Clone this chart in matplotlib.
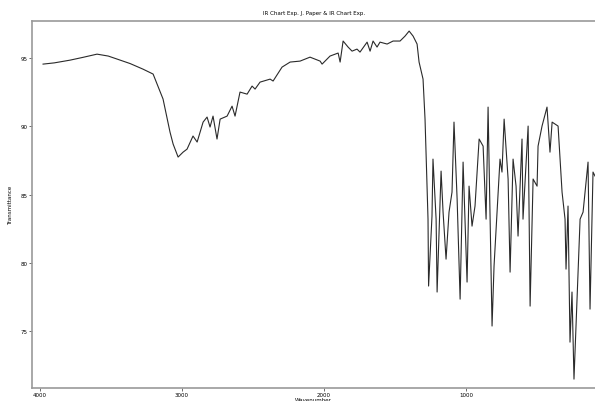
import matplotlib
matplotlib.use("Agg")
from matplotlib import pyplot as plt

# IR spectrum (wavenumber cm-1, transmittance)
wavenumber = [3979, 3900, 3789, 3700, 3599, 3520, 3458, 3366, 3275, 3204,
              3134, 3085, 3063, 3028,
              2993, 2965, 2923, 2894, 2852, 2824, 2803, 2782, 2754, 2732,
              2683, 2648, 2627, 2592, 2542, 2507, 2486, 2451, 2380, 2359,
              2296, 2239, 2169, 2099, 2028, 2014, 1958, 1901, 1887, 1866,
              1831, 1803, 1768, 1747, 1697, 1676, 1655, 1627, 1606, 1556,
              1514, 1465, 1430, 1401, 1373, 1345, 1331, 1303, 1289, 1282,
              1268, 1264, 1240, 1233, 1211, 1204, 1176, 1162, 1141, 1120,
              1099, 1085, 1063, 1042, 1021, 993, 979, 958, 937, 908,
              880, 859, 845, 817, 803, 761, 747, 732, 704, 690,
              669, 648, 634, 606, 599, 563, 549, 528, 500, 493,
              465, 430, 409, 394, 352, 324, 303, 296, 282, 268,
              254, 240, 197, 176, 141, 127, 106, 92]
transmittance = [94.56, 94.65, 94.85, 95.05, 95.29, 95.15, 94.93, 94.60, 94.19, 93.83,
                 92.0, 89.58, 88.70, 87.75,
                 88.11, 88.33, 89.29, 88.85, 90.31, 90.68, 89.95, 90.75, 89.07, 90.53,
                 90.75, 91.48, 90.75, 92.51, 92.36, 92.95, 92.73, 93.24, 93.46, 93.32,
                 94.34, 94.71, 94.78, 95.07, 94.78, 94.56, 95.15, 95.37, 94.71, 96.25,
                 95.81, 95.51, 95.66, 95.44, 96.17, 95.51, 96.25, 95.81, 96.17, 96.03,
                 96.25, 96.25, 96.61, 96.98, 96.61, 96.03, 94.71, 93.46, 90.53, 88.11,
                 83.20, 78.30, 83.42, 87.60, 83.20, 77.86, 86.72, 83.72, 80.27, 83.72,
                 85.18, 90.31, 84.67, 77.34, 87.38, 78.59, 85.62, 82.69, 84.16, 89.07,
                 88.55, 83.20, 91.41, 75.37, 79.76, 87.60, 86.65, 90.53, 86.14, 79.32,
                 87.60, 85.62, 81.96, 89.07, 83.20, 90.02, 76.83, 86.14, 85.62, 88.55,
                 90.02, 91.41, 88.11, 90.31, 90.02, 85.18, 83.20, 79.54, 84.16, 74.19,
                 77.86, 71.48, 83.20, 83.72, 87.38, 76.61, 86.65, 86.36]

xticks = [4000, 3000, 2000, 1000]
yticks = [75, 80, 85, 90, 95]

fig = plt.figure(figsize=(5.95, 4.02), dpi=100)
ax = fig.add_axes([0.054, 0.032, 0.946, 0.913])

ax.plot(wavenumber, transmittance, color='#2a2a2a', linewidth=0.8)

ax.set_xlim(4056, 92)
ax.set_ylim(70.82, 97.71)
ax.set_xticks(xticks)
ax.set_yticks(yticks)
ax.tick_params(labelsize=4, length=2, width=0.6, color='#555555', pad=1)
ax.tick_params(axis='x', pad=0.5)

for side in ['left', 'top', 'bottom']:
    ax.spines[side].set_color('#999999')
    ax.spines[side].set_linewidth(1.2)
ax.spines['right'].set_visible(False)

ax.set_title("IR Chart Exp. J. Paper & IR Chart Exp.", fontsize=4, pad=5)
ax.set_ylabel("Transmittance", fontsize=4, labelpad=6)
ax.set_xlabel("Wavenumber", fontsize=4, labelpad=0)

fig.savefig("out.png", dpi=100)
